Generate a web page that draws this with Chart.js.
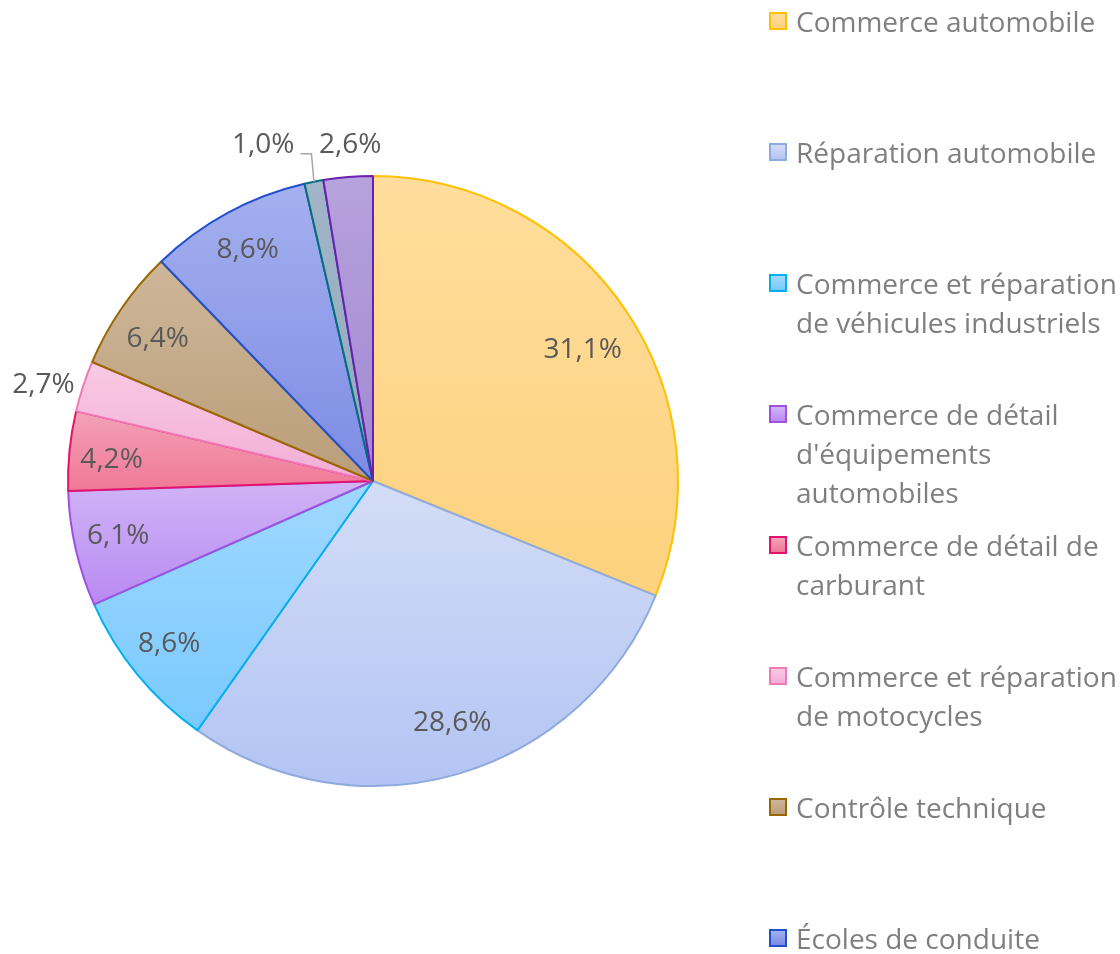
<!DOCTYPE html>
<html>
<head>
<meta charset="utf-8">
<script src="https://cdn.jsdelivr.net/npm/chart.js@4.4.0/dist/chart.umd.min.js"></script>
<style>
  html, body { margin: 0; padding: 0; background: #fff; overflow: hidden; }
  #wrap { position: relative; width: 1120px; height: 954px; overflow: hidden; }
  #pie { position: absolute; left: 0; top: 0; }
  #legend { position: absolute; left: 769px; top: 0; width: 351px; font-family: "Open Sans", sans-serif; }
  .item { position: absolute; left: 0; width: 351px; }
  .box { position: absolute; left: 0; top: 10px; width: 14px; height: 14px; border: 2px solid; }
  .txt { position: absolute; left: 27px; top: 0; font-size: 28px; line-height: 39px; color: #7f7f7f; white-space: nowrap; }
</style>
</head>
<body>
<div id="wrap">
  <canvas id="pie" width="1120" height="954"></canvas>
  <div id="legend"></div>
</div>
<script>
// secteurs, dans l'ordre du camembert (sens horaire depuis midi)
const labels = [
  'Commerce automobile',
  'Réparation automobile',
  'Commerce et réparation de véhicules industriels',
  'Commerce de détail d\'équipements automobiles',
  'Commerce de détail de carburant',
  'Commerce et réparation de motocycles',
  'Contrôle technique',
  'Écoles de conduite',
  'Location de véhicules',
  'Autres services automobiles'
];
// lignes du texte de légende (retour à la ligne comme dans l'original)
const legendLines = [
  ['Commerce automobile'],
  ['Réparation automobile'],
  ['Commerce et réparation', 'de véhicules industriels'],
  ['Commerce de détail', 'd\'équipements', 'automobiles'],
  ['Commerce de détail de', 'carburant'],
  ['Commerce et réparation', 'de motocycles'],
  ['Contrôle technique'],
  ['Écoles de conduite'],
  ['Location de véhicules'],
  ['Autres services automobiles']
];
const values = [31.1, 28.6, 8.6, 6.1, 4.2, 2.7, 6.4, 8.6, 1.0, 2.6];

// couleurs : haut / bas du dégradé, bordure
const topColors = ['#FFDD9C', '#D3DDF6', '#A0D8FF', '#D0B4F6', '#F3A2B6', '#F9CAE3', '#CDB799', '#A4B0EE', '#A2B5C8', '#B6A2DC'];
const bottomColors = ['#FDD27E', '#B3C4F4', '#79C9FF', '#B98AF2', '#F07896', '#F2AED6', '#BB9D79', '#7D8BE4', '#93A9BC', '#A088D2'];
const borderColors = ['#FFC000', '#8FAADC', '#00B0F0', '#A050E0', '#E3126E', '#F07AB8', '#996600', '#2050D0', '#00707F', '#6A1FB0'];

// placement des étiquettes : fraction du rayon, décalage angulaire (degrés)
const labelPlace = [
  { r: 0.81, shift: 2 },
  { r: 0.835, shift: -1.7 },
  { r: 0.856, shift: 0.7 },
  { r: 0.855, shift: 0.7 },
  { r: 0.86, shift: -1 },
  { r: 1.125, shift: -1.9 },
  { r: 0.846, shift: -1.1 },
  { r: 0.862, shift: 0 },
  { r: 1.16, shift: -6.9, leader: true },
  { r: 1.105, shift: 0.8 }
];

const fmt = v => v.toFixed(1).replace('.', ',') + '%';

// dégradé vertical sur la boîte englobante de chaque part
function sliceGradient(ctx, arc, i) {
  const R = arc.outerRadius;
  const a0 = arc.startAngle, a1 = arc.endAngle;
  let ys = [arc.y, arc.y + Math.sin(a0) * R, arc.y + Math.sin(a1) * R];
  for (let k = -2; k <= 2; k++) {
    const up = -Math.PI / 2 + k * 2 * Math.PI;
    const down = Math.PI / 2 + k * 2 * Math.PI;
    if (up > a0 && up < a1) ys.push(arc.y - R);
    if (down > a0 && down < a1) ys.push(arc.y + R);
  }
  const g = ctx.createLinearGradient(0, Math.min(...ys), 0, Math.max(...ys));
  g.addColorStop(0, topColors[i]);
  g.addColorStop(1, bottomColors[i]);
  return g;
}

const gradientPlugin = {
  id: 'sliceGradients',
  beforeDatasetsDraw(chart) {
    const meta = chart.getDatasetMeta(0);
    meta.data.forEach((arc, i) => {
      arc.options.backgroundColor = sliceGradient(chart.ctx, arc, i);
    });
  }
};

const labelPlugin = {
  id: 'sliceLabels',
  afterDatasetsDraw(chart) {
    const ctx = chart.ctx;
    const meta = chart.getDatasetMeta(0);
    ctx.save();
    ctx.font = '28px "Open Sans"';
    ctx.textAlign = 'center';
    ctx.textBaseline = 'middle';
    meta.data.forEach((arc, i) => {
      const p = labelPlace[i];
      const mid = (arc.startAngle + arc.endAngle) / 2;
      const a = mid + p.shift * Math.PI / 180;
      const r = arc.outerRadius * p.r;
      const x = arc.x + Math.cos(a) * r;
      const y = arc.y + Math.sin(a) * r;
      const text = fmt(values[i]);
      ctx.fillStyle = '#595959';
      ctx.fillText(text, x, y);
      if (p.leader) {
        const w = ctx.measureText(text).width;
        const ex = arc.x + Math.cos(mid) * arc.outerRadius;
        const ey = arc.y + Math.sin(mid) * arc.outerRadius;
        ctx.strokeStyle = '#A6A6A6';
        ctx.lineWidth = 1.5;
        ctx.beginPath();
        ctx.moveTo(ex, ey);
        ctx.lineTo(x + w / 2 + 17, y + 9);
        ctx.lineTo(x + w / 2 + 6, y + 9);
        ctx.stroke();
      }
    });
    ctx.restore();
  }
};

new Chart(document.getElementById('pie'), {
  type: 'pie',
  data: {
    labels: labels,
    datasets: [{
      data: values,
      backgroundColor: topColors,
      borderColor: borderColors,
      borderWidth: 2,
      borderAlign: 'center'
    }]
  },
  options: {
    responsive: false,
    animation: false,
    layout: { padding: { left: 67, right: 441, top: 175, bottom: 167 } },
    plugins: {
      legend: { display: false },
      tooltip: { enabled: false }
    }
  },
  plugins: [gradientPlugin, labelPlugin]
});

// légende HTML : une case tous les 131 px
const legend = document.getElementById('legend');
labels.forEach((name, i) => {
  const item = document.createElement('div');
  item.className = 'item';
  item.style.top = (2 + i * 131) + 'px';
  const box = document.createElement('div');
  box.className = 'box';
  box.style.borderColor = borderColors[i];
  box.style.background = `linear-gradient(${topColors[i]}, ${bottomColors[i]})`;
  const txt = document.createElement('div');
  txt.className = 'txt';
  txt.innerHTML = legendLines[i].join('<br>');
  item.appendChild(box);
  item.appendChild(txt);
  legend.appendChild(item);
});
</script>
</body>
</html>
